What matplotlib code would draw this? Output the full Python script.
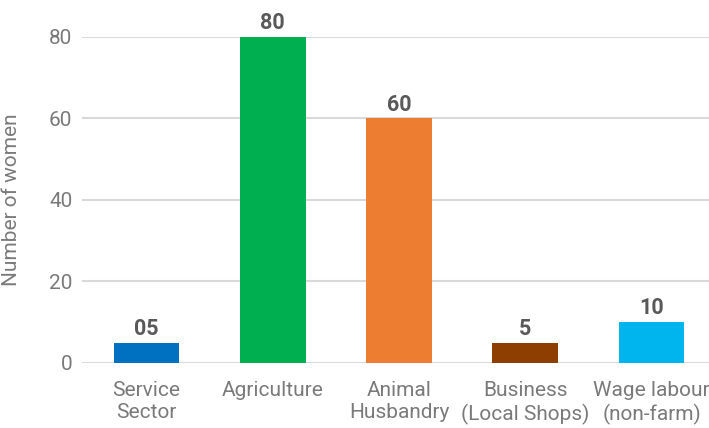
import matplotlib.pyplot as plt

# data
categories = ["Service\nSector", "Agriculture", "Animal\nHusbandry",
              "Business\n(Local Shops)", "Wage labour\n(non-farm)"]
women = [5, 80, 60, 5, 10]
value_labels = ["05", "80", "60", "5", "10"]
bar_colors = ["#0070C0", "#00B050", "#ED7D31", "#8E3F00", "#00B4EE"]
y_ticks = [0, 20, 40, 60, 80]

plt.rcParams["font.family"] = ["Roboto", "DejaVu Sans"]

fig = plt.figure(figsize=(7.09, 4.28), dpi=100)
ax = fig.add_axes([0.1157, 0.1519, 0.8843, 0.7617])

bars = ax.bar(range(len(categories)), women, width=0.52, color=bar_colors, zorder=3)
ax.bar_label(bars, labels=value_labels, padding=2, fontsize=15.5,
             fontweight="bold", color="#595959")

ax.set_ylim(0, 80)
ax.set_xlim(-0.51, 4.455)
ax.set_yticks(y_ticks)
ax.set_xticks(range(len(categories)))
ax.set_xticklabels(categories, linespacing=1.22)
ax.tick_params(length=0, labelsize=15, labelcolor="#7a7a7a")
ax.tick_params(axis="y", pad=7)
ax.tick_params(axis="x", pad=13)

ax.grid(axis="y", color="#d9d9d9", linewidth=1.5, zorder=0)
for side in ["top", "right", "left", "bottom"]:
    ax.spines[side].set_visible(False)

ax.set_ylabel("Number of women", fontsize=15, color="#7a7a7a")
ax.yaxis.set_label_coords(-0.098, 0.5)

fig.savefig("out.png", dpi=100)
